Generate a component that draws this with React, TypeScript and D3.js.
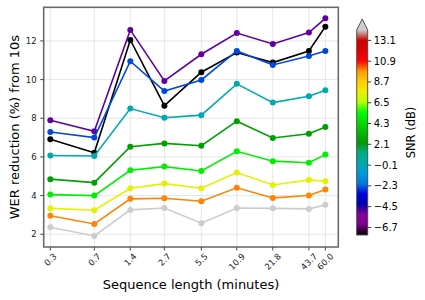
import React from 'react';
import * as d3 from 'd3';

// sequence lengths (minutes) and tick labels
const LENGTHS = [0.3, 0.7, 1.4, 2.7, 5.5, 10.9, 21.8, 43.7, 60.0];
const LENGTH_LABELS = ['0.3', '0.7', '1.4', '2.7', '5.5', '10.9', '21.8', '43.7', '60.0'];

// SNR of each curve (dB); the last one is clean speech, above the colour range
const SNRS = [-7.5, -5, -2.5, 0, 2.5, 5, 7.5, 10, 20];

const WER_M75 = [6.91, 6.22, 12.05, 8.65, 10.38, 11.4, 10.88, 11.48, 12.74];
const WER_M5 = [7.9, 7.33, 12.57, 9.93, 11.31, 12.41, 11.84, 12.43, 13.17];
const WER_M25 = [7.29, 7.0, 10.95, 9.41, 9.98, 11.48, 10.76, 11.22, 11.48];
const WER_0 = [6.07, 6.05, 8.5, 8.03, 8.16, 9.78, 8.81, 9.14, 9.45];
const WER_25 = [4.85, 4.67, 6.53, 6.7, 6.58, 7.85, 6.98, 7.2, 7.55];
const WER_5 = [4.05, 4.0, 5.31, 5.5, 5.27, 6.29, 5.78, 5.7, 6.12];
const WER_75 = [3.34, 3.24, 4.38, 4.62, 4.38, 5.19, 4.55, 4.81, 4.74];
const WER_10 = [2.96, 2.53, 3.83, 3.86, 3.71, 4.4, 3.88, 4.0, 4.31];
const WER_CLEAN = [2.36, 1.91, 3.26, 3.36, 2.57, 3.36, 3.34, 3.31, 3.52];
const SERIES = [WER_M75, WER_M5, WER_M25, WER_0, WER_25, WER_5, WER_75, WER_10, WER_CLEAN];

const X_DOMAIN = [0.264, 77];
const Y_DOMAIN = [1.34, 13.74];
const Y_TICKS = [2, 4, 6, 8, 10, 12];
const CBAR_TICKS = [-6.7, -4.5, -2.3, -0.1, 2.1, 4.3, 6.5, 8.7, 10.9, 13.1];
const CBAR_DOMAIN = [-7.5, 14.2];

// matplotlib nipy_spectral segment data
const NS_POS = [0, 0.05, 0.1, 0.15, 0.2, 0.25, 0.3, 0.35, 0.4, 0.45, 0.5, 0.55, 0.6, 0.65, 0.7, 0.75, 0.8, 0.85, 0.9, 0.95, 1];
const NS_R = [0, 0.4667, 0.5333, 0, 0, 0, 0, 0, 0, 0, 0, 0, 0, 0.7333, 0.9333, 1, 1, 1, 0.8667, 0.8, 0.8];
const NS_G = [0, 0, 0, 0, 0, 0.4667, 0.6, 0.6667, 0.6667, 0.6, 0.7333, 0.8667, 1, 1, 0.9333, 0.8, 0.6, 0, 0, 0, 0.8];
const NS_B = [0, 0.5333, 0.6, 0.6667, 0.8667, 0.8667, 0.8667, 0.6667, 0.5333, 0, 0, 0, 0, 0, 0, 0, 0, 0, 0, 0, 0.8];

const chR = d3.scaleLinear(NS_POS, NS_R);
const chG = d3.scaleLinear(NS_POS, NS_G);
const chB = d3.scaleLinear(NS_POS, NS_B);
const nipy = (t: number) => {
  const u = Math.max(0, Math.min(1, t));
  return d3.rgb(chR(u) * 255, chG(u) * 255, chB(u) * 255).formatHex();
};

const W = 425;
const H = 300;
const M = { left: 43.7, right: 338.3, top: 7.3, bottom: 247 };
const CB = { left: 356.7, right: 367.7, top: 30, bottom: 235, tip: 19 };
const FONT = 'DejaVu Sans, sans-serif';

const fmtMinus = (v: number) => (v < 0 ? '\u2212' + Math.abs(v).toFixed(1) : v.toFixed(1));

export default function App() {
  const x = d3.scaleLog().domain(X_DOMAIN).range([M.left, M.right]);
  const y = d3.scaleLinear().domain(Y_DOMAIN).range([M.bottom, M.top]);
  const norm = d3.scaleLinear().domain(CBAR_DOMAIN).range([0, 1]);
  const cy = d3.scaleLinear().domain(CBAR_DOMAIN).range([CB.bottom, CB.top]);

  const line = d3
    .line<number>()
    .x((_, i) => x(LENGTHS[i]))
    .y((d) => y(d));

  const stops = d3.range(0, 1.0001, 0.01);
  const tickFs = 8.5;

  return (
    <svg width={W} height={H} style={{ position: 'absolute', left: 0, top: 0 }} fontFamily={FONT}>
      <defs>
        <linearGradient id="cbar" x1="0" y1="1" x2="0" y2="0">
          {stops.map((t) => (
            <stop key={t} offset={t} stopColor={nipy(t)} />
          ))}
        </linearGradient>
      </defs>
      <rect width={W} height={H} fill="#fff" />

      {/* grid */}
      {LENGTHS.map((v) => (
        <line key={'gx' + v} x1={x(v)} x2={x(v)} y1={M.top} y2={M.bottom} stroke="#e6e6e6" strokeWidth={1} />
      ))}
      {Y_TICKS.map((v) => (
        <line key={'gy' + v} x1={M.left} x2={M.right} y1={y(v)} y2={y(v)} stroke="#e6e6e6" strokeWidth={1} />
      ))}

      {/* series, low SNR first */}
      {SERIES.map((s, k) => {
        const c = nipy(norm(SNRS[k]));
        return (
          <g key={k}>
            <path d={line(s) ?? ''} fill="none" stroke={c} strokeWidth={1.6} />
            {s.map((v, i) => (
              <circle key={i} cx={x(LENGTHS[i])} cy={y(v)} r={3} fill={c} />
            ))}
          </g>
        );
      })}

      {/* frame */}
      <rect x={M.left} y={M.top} width={M.right - M.left} height={M.bottom - M.top} fill="none" stroke="#6b6b6b" strokeWidth={1.6} />

      {/* y axis */}
      {Y_TICKS.map((v) => (
        <g key={'yt' + v} transform={`translate(${M.left},${y(v)})`}>
          <line x1={-3.5} x2={0} stroke="#444" strokeWidth={1} />
          <text x={-7} textAnchor="end" dominantBaseline="central" fontSize={tickFs} fill="#222">
            {v}
          </text>
        </g>
      ))}
      <text
        transform={`translate(14,${(M.top + M.bottom) / 2}) rotate(-90)`}
        textAnchor="middle"
        dominantBaseline="central"
        fontSize={13}
      >
        WER reduction (%) from 10s
      </text>

      {/* x axis */}
      {LENGTHS.map((v, i) => {
        const lab = LENGTH_LABELS[i];
        const w = lab.split('').reduce((a, ch) => a + (ch === '.' ? 0.318 : 0.636), 0) * tickFs;
        const half = (w + tickFs * 0.8) / (2 * Math.SQRT2);
        return (
          <g key={'xt' + v}>
            <line x1={x(v)} x2={x(v)} y1={M.bottom} y2={M.bottom + 3.5} stroke="#444" strokeWidth={1} />
            <text
              transform={`translate(${x(v)},${M.bottom + 5.5 + half}) rotate(-45)`}
              textAnchor="middle"
              dominantBaseline="central"
              fontSize={tickFs}
              fill="#222"
            >
              {lab}
            </text>
          </g>
        );
      })}
      <text x={(M.left + M.right) / 2} y={289} textAnchor="middle" fontSize={13}>
        Sequence length (minutes)
      </text>

      {/* colorbar */}
      <rect x={CB.left} y={CB.top} width={CB.right - CB.left} height={CB.bottom - CB.top} fill="url(#cbar)" />
      <path
        d={`M${CB.left},${CB.top} L${(CB.left + CB.right) / 2},${CB.tip} L${CB.right},${CB.top} Z`}
        fill={nipy(1)}
      />
      <path
        d={`M${CB.left},${CB.bottom} L${CB.left},${CB.top} L${(CB.left + CB.right) / 2},${CB.tip} L${CB.right},${CB.top} L${CB.right},${CB.bottom} Z`}
        fill="none"
        stroke="#444"
        strokeWidth={0.9}
      />
      {CBAR_TICKS.map((v) => (
        <g key={'ct' + v} transform={`translate(${CB.right},${cy(v)})`}>
          <line x1={0} x2={3.5} stroke="#222" strokeWidth={0.9} />
          <text x={6} dominantBaseline="central" fontSize={10}>
            {fmtMinus(v)}
          </text>
        </g>
      ))}
      <text
        transform={`translate(411,${(CB.top + CB.bottom) / 2}) rotate(-90)`}
        textAnchor="middle"
        dominantBaseline="central"
        fontSize={11.5}
      >
        SNR (dB)
      </text>
    </svg>
  );
}
